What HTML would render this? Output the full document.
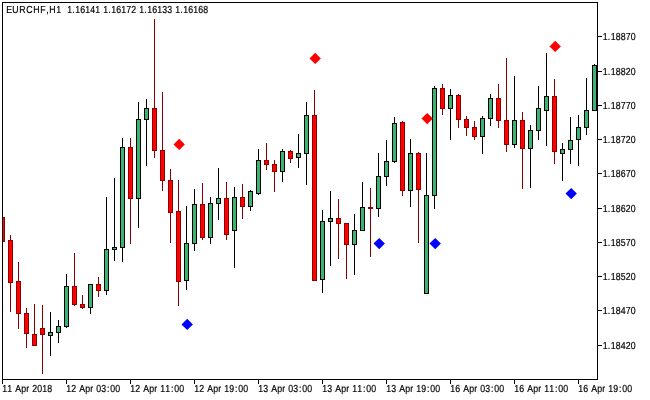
<!DOCTYPE html>
<html><head><meta charset="utf-8"><title>EURCHF,H1</title>
<style>html,body{margin:0;padding:0;background:#fff}body{width:650px;height:400px;overflow:hidden}svg{display:block}text{font-family:"Liberation Sans",Arial,sans-serif;font-size:10.2px;text-rendering:geometricPrecision;fill:#000;stroke:#000;stroke-width:0.2px}</style></head><body>
<svg width="650" height="400" viewBox="0 0 650 400">
<rect width="650" height="400" fill="#fff"/>
<g shape-rendering="crispEdges">
<rect x="2" y="217" width="1" height="25" fill="#8b0000"/>
<rect x="0" y="217" width="5" height="25" fill="#8b0000"/>
<rect x="1" y="218" width="3" height="23" fill="#ff0000"/>
<rect x="10" y="235" width="1" height="77" fill="#8b0000"/>
<rect x="8" y="240" width="5" height="43" fill="#8b0000"/>
<rect x="9" y="241" width="3" height="41" fill="#ff0000"/>
<rect x="18" y="262" width="1" height="67" fill="#8b0000"/>
<rect x="16" y="281" width="5" height="33" fill="#8b0000"/>
<rect x="17" y="282" width="3" height="31" fill="#ff0000"/>
<rect x="26" y="308" width="1" height="40" fill="#8b0000"/>
<rect x="24" y="313" width="5" height="21" fill="#8b0000"/>
<rect x="25" y="314" width="3" height="19" fill="#ff0000"/>
<rect x="34" y="304" width="1" height="42" fill="#8b0000"/>
<rect x="32" y="334" width="5" height="12" fill="#8b0000"/>
<rect x="33" y="335" width="3" height="10" fill="#ff0000"/>
<rect x="42" y="305" width="1" height="69" fill="#8b0000"/>
<rect x="40" y="328" width="5" height="7" fill="#8b0000"/>
<rect x="41" y="329" width="3" height="5" fill="#ff0000"/>
<rect x="50" y="312" width="1" height="44" fill="#000"/>
<rect x="48" y="332" width="5" height="4" fill="#000"/>
<rect x="49" y="333" width="3" height="2" fill="#3cb371"/>
<rect x="58" y="320" width="1" height="23" fill="#000"/>
<rect x="56" y="326" width="5" height="7" fill="#000"/>
<rect x="57" y="327" width="3" height="5" fill="#3cb371"/>
<rect x="66" y="274" width="1" height="54" fill="#000"/>
<rect x="64" y="286" width="5" height="41" fill="#000"/>
<rect x="65" y="287" width="3" height="39" fill="#3cb371"/>
<rect x="74" y="253" width="1" height="53" fill="#8b0000"/>
<rect x="72" y="286" width="5" height="19" fill="#8b0000"/>
<rect x="73" y="287" width="3" height="17" fill="#ff0000"/>
<rect x="82" y="295" width="1" height="14" fill="#8b0000"/>
<rect x="80" y="304" width="5" height="4" fill="#8b0000"/>
<rect x="81" y="305" width="3" height="2" fill="#ff0000"/>
<rect x="90" y="284" width="1" height="30" fill="#000"/>
<rect x="88" y="284" width="5" height="24" fill="#000"/>
<rect x="89" y="285" width="3" height="22" fill="#3cb371"/>
<rect x="98" y="277" width="1" height="20" fill="#8b0000"/>
<rect x="96" y="284" width="5" height="7" fill="#8b0000"/>
<rect x="97" y="285" width="3" height="5" fill="#ff0000"/>
<rect x="106" y="197" width="1" height="98" fill="#000"/>
<rect x="104" y="249" width="5" height="42" fill="#000"/>
<rect x="105" y="250" width="3" height="40" fill="#3cb371"/>
<rect x="114" y="178" width="1" height="83" fill="#000"/>
<rect x="112" y="247" width="5" height="3" fill="#000"/>
<rect x="113" y="248" width="3" height="1" fill="#3cb371"/>
<rect x="122" y="138" width="1" height="124" fill="#000"/>
<rect x="120" y="147" width="5" height="101" fill="#000"/>
<rect x="121" y="148" width="3" height="99" fill="#3cb371"/>
<rect x="130" y="138" width="1" height="106" fill="#8b0000"/>
<rect x="128" y="147" width="5" height="52" fill="#8b0000"/>
<rect x="129" y="148" width="3" height="50" fill="#ff0000"/>
<rect x="138" y="102" width="1" height="126" fill="#000"/>
<rect x="136" y="119" width="5" height="80" fill="#000"/>
<rect x="137" y="120" width="3" height="78" fill="#3cb371"/>
<rect x="146" y="99" width="1" height="67" fill="#000"/>
<rect x="144" y="108" width="5" height="12" fill="#000"/>
<rect x="145" y="109" width="3" height="10" fill="#3cb371"/>
<rect x="154" y="19" width="1" height="139" fill="#8b0000"/>
<rect x="152" y="108" width="5" height="43" fill="#8b0000"/>
<rect x="153" y="109" width="3" height="41" fill="#ff0000"/>
<rect x="162" y="92" width="1" height="99" fill="#8b0000"/>
<rect x="160" y="150" width="5" height="31" fill="#8b0000"/>
<rect x="161" y="151" width="3" height="29" fill="#ff0000"/>
<rect x="170" y="169" width="1" height="74" fill="#8b0000"/>
<rect x="168" y="180" width="5" height="33" fill="#8b0000"/>
<rect x="169" y="181" width="3" height="31" fill="#ff0000"/>
<rect x="178" y="180" width="1" height="126" fill="#8b0000"/>
<rect x="176" y="211" width="5" height="71" fill="#8b0000"/>
<rect x="177" y="212" width="3" height="69" fill="#ff0000"/>
<rect x="186" y="206" width="1" height="84" fill="#000"/>
<rect x="184" y="243" width="5" height="38" fill="#000"/>
<rect x="185" y="244" width="3" height="36" fill="#3cb371"/>
<rect x="194" y="189" width="1" height="62" fill="#000"/>
<rect x="192" y="204" width="5" height="40" fill="#000"/>
<rect x="193" y="205" width="3" height="38" fill="#3cb371"/>
<rect x="202" y="183" width="1" height="57" fill="#8b0000"/>
<rect x="200" y="204" width="5" height="34" fill="#8b0000"/>
<rect x="201" y="205" width="3" height="32" fill="#ff0000"/>
<rect x="210" y="197" width="1" height="47" fill="#000"/>
<rect x="208" y="203" width="5" height="35" fill="#000"/>
<rect x="209" y="204" width="3" height="33" fill="#3cb371"/>
<rect x="218" y="168" width="1" height="52" fill="#000"/>
<rect x="216" y="198" width="5" height="6" fill="#000"/>
<rect x="217" y="199" width="3" height="4" fill="#3cb371"/>
<rect x="226" y="182" width="1" height="58" fill="#8b0000"/>
<rect x="224" y="198" width="5" height="37" fill="#8b0000"/>
<rect x="225" y="199" width="3" height="35" fill="#ff0000"/>
<rect x="234" y="187" width="1" height="81" fill="#000"/>
<rect x="232" y="197" width="5" height="34" fill="#000"/>
<rect x="233" y="198" width="3" height="32" fill="#3cb371"/>
<rect x="242" y="184" width="1" height="35" fill="#8b0000"/>
<rect x="240" y="197" width="5" height="10" fill="#8b0000"/>
<rect x="241" y="198" width="3" height="8" fill="#ff0000"/>
<rect x="250" y="190" width="1" height="21" fill="#000"/>
<rect x="248" y="191" width="5" height="16" fill="#000"/>
<rect x="249" y="192" width="3" height="14" fill="#3cb371"/>
<rect x="258" y="149" width="1" height="46" fill="#000"/>
<rect x="256" y="160" width="5" height="34" fill="#000"/>
<rect x="257" y="161" width="3" height="32" fill="#3cb371"/>
<rect x="266" y="143" width="1" height="27" fill="#8b0000"/>
<rect x="264" y="160" width="5" height="5" fill="#8b0000"/>
<rect x="265" y="161" width="3" height="3" fill="#ff0000"/>
<rect x="274" y="160" width="1" height="32" fill="#8b0000"/>
<rect x="272" y="164" width="5" height="8" fill="#8b0000"/>
<rect x="273" y="165" width="3" height="6" fill="#ff0000"/>
<rect x="282" y="149" width="1" height="33" fill="#000"/>
<rect x="280" y="151" width="5" height="21" fill="#000"/>
<rect x="281" y="152" width="3" height="19" fill="#3cb371"/>
<rect x="290" y="150" width="1" height="13" fill="#8b0000"/>
<rect x="288" y="151" width="5" height="8" fill="#8b0000"/>
<rect x="289" y="152" width="3" height="6" fill="#ff0000"/>
<rect x="298" y="134" width="1" height="34" fill="#000"/>
<rect x="296" y="153" width="5" height="5" fill="#000"/>
<rect x="297" y="154" width="3" height="3" fill="#3cb371"/>
<rect x="306" y="102" width="1" height="83" fill="#000"/>
<rect x="304" y="115" width="5" height="39" fill="#000"/>
<rect x="305" y="116" width="3" height="37" fill="#3cb371"/>
<rect x="314" y="90" width="1" height="191" fill="#8b0000"/>
<rect x="312" y="115" width="5" height="166" fill="#8b0000"/>
<rect x="313" y="116" width="3" height="164" fill="#ff0000"/>
<rect x="322" y="210" width="1" height="83" fill="#000"/>
<rect x="320" y="221" width="5" height="59" fill="#000"/>
<rect x="321" y="222" width="3" height="57" fill="#3cb371"/>
<rect x="330" y="191" width="1" height="75" fill="#000"/>
<rect x="328" y="218" width="5" height="4" fill="#000"/>
<rect x="329" y="219" width="3" height="2" fill="#3cb371"/>
<rect x="338" y="199" width="1" height="60" fill="#8b0000"/>
<rect x="336" y="218" width="5" height="6" fill="#8b0000"/>
<rect x="337" y="219" width="3" height="4" fill="#ff0000"/>
<rect x="346" y="223" width="1" height="56" fill="#8b0000"/>
<rect x="344" y="223" width="5" height="22" fill="#8b0000"/>
<rect x="345" y="224" width="3" height="20" fill="#ff0000"/>
<rect x="354" y="214" width="1" height="61" fill="#000"/>
<rect x="352" y="230" width="5" height="15" fill="#000"/>
<rect x="353" y="231" width="3" height="13" fill="#3cb371"/>
<rect x="362" y="182" width="1" height="49" fill="#000"/>
<rect x="360" y="207" width="5" height="24" fill="#000"/>
<rect x="361" y="208" width="3" height="22" fill="#3cb371"/>
<rect x="370" y="188" width="1" height="69" fill="#8b0000"/>
<rect x="368" y="207" width="5" height="2" fill="#8b0000"/>
<rect x="378" y="153" width="1" height="64" fill="#000"/>
<rect x="376" y="176" width="5" height="33" fill="#000"/>
<rect x="377" y="177" width="3" height="31" fill="#3cb371"/>
<rect x="386" y="140" width="1" height="46" fill="#000"/>
<rect x="384" y="161" width="5" height="16" fill="#000"/>
<rect x="385" y="162" width="3" height="14" fill="#3cb371"/>
<rect x="394" y="117" width="1" height="46" fill="#000"/>
<rect x="392" y="123" width="5" height="39" fill="#000"/>
<rect x="393" y="124" width="3" height="37" fill="#3cb371"/>
<rect x="402" y="121" width="1" height="75" fill="#8b0000"/>
<rect x="400" y="122" width="5" height="69" fill="#8b0000"/>
<rect x="401" y="123" width="3" height="67" fill="#ff0000"/>
<rect x="410" y="139" width="1" height="68" fill="#000"/>
<rect x="408" y="153" width="5" height="38" fill="#000"/>
<rect x="409" y="154" width="3" height="36" fill="#3cb371"/>
<rect x="418" y="152" width="1" height="91" fill="#8b0000"/>
<rect x="416" y="153" width="5" height="37" fill="#8b0000"/>
<rect x="417" y="154" width="3" height="35" fill="#ff0000"/>
<rect x="426" y="153" width="1" height="141" fill="#000"/>
<rect x="424" y="195" width="5" height="99" fill="#000"/>
<rect x="425" y="196" width="3" height="97" fill="#3cb371"/>
<rect x="434" y="86" width="1" height="123" fill="#000"/>
<rect x="432" y="88" width="5" height="108" fill="#000"/>
<rect x="433" y="89" width="3" height="106" fill="#3cb371"/>
<rect x="442" y="84" width="1" height="31" fill="#8b0000"/>
<rect x="440" y="88" width="5" height="21" fill="#8b0000"/>
<rect x="441" y="89" width="3" height="19" fill="#ff0000"/>
<rect x="450" y="89" width="1" height="51" fill="#000"/>
<rect x="448" y="95" width="5" height="14" fill="#000"/>
<rect x="449" y="96" width="3" height="12" fill="#3cb371"/>
<rect x="458" y="94" width="1" height="34" fill="#8b0000"/>
<rect x="456" y="95" width="5" height="25" fill="#8b0000"/>
<rect x="457" y="96" width="3" height="23" fill="#ff0000"/>
<rect x="466" y="116" width="1" height="20" fill="#8b0000"/>
<rect x="464" y="119" width="5" height="9" fill="#8b0000"/>
<rect x="465" y="120" width="3" height="7" fill="#ff0000"/>
<rect x="474" y="121" width="1" height="19" fill="#8b0000"/>
<rect x="472" y="127" width="5" height="10" fill="#8b0000"/>
<rect x="473" y="128" width="3" height="8" fill="#ff0000"/>
<rect x="482" y="116" width="1" height="38" fill="#000"/>
<rect x="480" y="118" width="5" height="19" fill="#000"/>
<rect x="481" y="119" width="3" height="17" fill="#3cb371"/>
<rect x="490" y="94" width="1" height="32" fill="#000"/>
<rect x="488" y="98" width="5" height="21" fill="#000"/>
<rect x="489" y="99" width="3" height="19" fill="#3cb371"/>
<rect x="498" y="84" width="1" height="44" fill="#8b0000"/>
<rect x="496" y="98" width="5" height="23" fill="#8b0000"/>
<rect x="497" y="99" width="3" height="21" fill="#ff0000"/>
<rect x="506" y="58" width="1" height="94" fill="#8b0000"/>
<rect x="504" y="120" width="5" height="25" fill="#8b0000"/>
<rect x="505" y="121" width="3" height="23" fill="#ff0000"/>
<rect x="514" y="76" width="1" height="72" fill="#000"/>
<rect x="512" y="120" width="5" height="25" fill="#000"/>
<rect x="513" y="121" width="3" height="23" fill="#3cb371"/>
<rect x="522" y="112" width="1" height="77" fill="#8b0000"/>
<rect x="520" y="120" width="5" height="29" fill="#8b0000"/>
<rect x="521" y="121" width="3" height="27" fill="#ff0000"/>
<rect x="530" y="125" width="1" height="63" fill="#000"/>
<rect x="528" y="130" width="5" height="19" fill="#000"/>
<rect x="529" y="131" width="3" height="17" fill="#3cb371"/>
<rect x="538" y="86" width="1" height="54" fill="#000"/>
<rect x="536" y="108" width="5" height="23" fill="#000"/>
<rect x="537" y="109" width="3" height="21" fill="#3cb371"/>
<rect x="546" y="53" width="1" height="93" fill="#000"/>
<rect x="544" y="96" width="5" height="15" fill="#000"/>
<rect x="545" y="97" width="3" height="13" fill="#3cb371"/>
<rect x="554" y="79" width="1" height="85" fill="#8b0000"/>
<rect x="552" y="96" width="5" height="56" fill="#8b0000"/>
<rect x="553" y="97" width="3" height="54" fill="#ff0000"/>
<rect x="562" y="143" width="1" height="38" fill="#000"/>
<rect x="560" y="149" width="5" height="5" fill="#000"/>
<rect x="561" y="150" width="3" height="3" fill="#3cb371"/>
<rect x="570" y="117" width="1" height="47" fill="#000"/>
<rect x="568" y="140" width="5" height="10" fill="#000"/>
<rect x="569" y="141" width="3" height="8" fill="#3cb371"/>
<rect x="578" y="115" width="1" height="51" fill="#000"/>
<rect x="576" y="127" width="5" height="13" fill="#000"/>
<rect x="577" y="128" width="3" height="11" fill="#3cb371"/>
<rect x="586" y="78" width="1" height="57" fill="#000"/>
<rect x="584" y="110" width="5" height="18" fill="#000"/>
<rect x="585" y="111" width="3" height="16" fill="#3cb371"/>
<rect x="594" y="64" width="1" height="47" fill="#000"/>
<rect x="592" y="65" width="5" height="46" fill="#000"/>
<rect x="593" y="66" width="3" height="44" fill="#3cb371"/>
<rect x="0" y="0" width="2" height="400" fill="#fff"/>
<rect x="2" y="2" width="596" height="1" fill="#000"/>
<rect x="2" y="379" width="596" height="1" fill="#000"/>
<rect x="2" y="2" width="1" height="382" fill="#000"/>
<rect x="597" y="2" width="1" height="378" fill="#000"/>
<rect x="598" y="36" width="4" height="1" fill="#000"/>
<rect x="598" y="71" width="4" height="1" fill="#000"/>
<rect x="598" y="105" width="4" height="1" fill="#000"/>
<rect x="598" y="139" width="4" height="1" fill="#000"/>
<rect x="598" y="173" width="4" height="1" fill="#000"/>
<rect x="598" y="208" width="4" height="1" fill="#000"/>
<rect x="598" y="242" width="4" height="1" fill="#000"/>
<rect x="598" y="276" width="4" height="1" fill="#000"/>
<rect x="598" y="310" width="4" height="1" fill="#000"/>
<rect x="598" y="345" width="4" height="1" fill="#000"/>
<rect x="66" y="380" width="1" height="4" fill="#000"/>
<rect x="130" y="380" width="1" height="4" fill="#000"/>
<rect x="194" y="380" width="1" height="4" fill="#000"/>
<rect x="258" y="380" width="1" height="4" fill="#000"/>
<rect x="322" y="380" width="1" height="4" fill="#000"/>
<rect x="386" y="380" width="1" height="4" fill="#000"/>
<rect x="450" y="380" width="1" height="4" fill="#000"/>
<rect x="514" y="380" width="1" height="4" fill="#000"/>
<rect x="578" y="380" width="1" height="4" fill="#000"/>
</g>
<polygon points="173.5,144.4 179.2,138.70000000000002 184.89999999999998,144.4 179.2,150.1" fill="#ff0000"/>
<polygon points="181.5,324.4 187.2,318.7 192.89999999999998,324.4 187.2,330.09999999999997" fill="#0000ff"/>
<polygon points="309.5,58.4 315.2,52.699999999999996 320.9,58.4 315.2,64.1" fill="#ff0000"/>
<polygon points="373.5,243.6 379.2,237.9 384.9,243.6 379.2,249.29999999999998" fill="#0000ff"/>
<polygon points="421.5,118.6 427.2,112.89999999999999 432.9,118.6 427.2,124.3" fill="#ff0000"/>
<polygon points="429.5,243.6 435.2,237.9 440.9,243.6 435.2,249.29999999999998" fill="#0000ff"/>
<polygon points="549.5,46.4 555.2,40.699999999999996 560.9000000000001,46.4 555.2,52.1" fill="#ff0000"/>
<polygon points="565.5,193.6 571.2,187.9 576.9000000000001,193.6 571.2,199.29999999999998" fill="#0000ff"/>
<text transform="translate(0 40) scale(0.86 1)" x="700.81 706.63 710.12 715.93 721.74 727.56 733.37" y="0" xml:space="preserve">1.18870</text>
<text transform="translate(0 75) scale(0.86 1)" x="700.81 706.63 710.12 715.93 721.74 727.56 733.37" y="0" xml:space="preserve">1.18820</text>
<text transform="translate(0 109) scale(0.86 1)" x="700.81 706.63 710.12 715.93 721.74 727.56 733.37" y="0" xml:space="preserve">1.18770</text>
<text transform="translate(0 143) scale(0.86 1)" x="700.81 706.63 710.12 715.93 721.74 727.56 733.37" y="0" xml:space="preserve">1.18720</text>
<text transform="translate(0 177) scale(0.86 1)" x="700.81 706.63 710.12 715.93 721.74 727.56 733.37" y="0" xml:space="preserve">1.18670</text>
<text transform="translate(0 212) scale(0.86 1)" x="700.81 706.63 710.12 715.93 721.74 727.56 733.37" y="0" xml:space="preserve">1.18620</text>
<text transform="translate(0 246) scale(0.86 1)" x="700.81 706.63 710.12 715.93 721.74 727.56 733.37" y="0" xml:space="preserve">1.18570</text>
<text transform="translate(0 280) scale(0.86 1)" x="700.81 706.63 710.12 715.93 721.74 727.56 733.37" y="0" xml:space="preserve">1.18520</text>
<text transform="translate(0 314) scale(0.86 1)" x="700.81 706.63 710.12 715.93 721.74 727.56 733.37" y="0" xml:space="preserve">1.18470</text>
<text transform="translate(0 349) scale(0.86 1)" x="700.81 706.63 710.12 715.93 721.74 727.56 733.37" y="0" xml:space="preserve">1.18420</text>
<text transform="translate(0 392) scale(0.86 1)" x="2.67 8.49 14.30 17.79 24.77 30.58 34.07 37.56 43.37 49.19 55.00" y="0" xml:space="preserve">11 Apr 2018</text>
<text transform="translate(0 392) scale(0.86 1)" x="77.09 82.91 88.72 92.21 99.19 105.00 108.49 111.98 117.79 124.53 128.26 134.07" y="0" xml:space="preserve">12 Apr 03:00</text>
<text transform="translate(0 392) scale(0.86 1)" x="151.51 157.33 163.14 166.63 173.60 179.42 182.91 186.40 192.21 198.95 202.67 208.49" y="0" xml:space="preserve">12 Apr 11:00</text>
<text transform="translate(0 392) scale(0.86 1)" x="225.93 231.74 237.56 241.05 248.02 253.84 257.33 260.81 266.63 273.37 277.09 282.91" y="0" xml:space="preserve">12 Apr 19:00</text>
<text transform="translate(0 392) scale(0.86 1)" x="300.35 306.16 311.98 315.47 322.44 328.26 331.74 335.23 341.05 347.79 351.51 357.33" y="0" xml:space="preserve">13 Apr 03:00</text>
<text transform="translate(0 392) scale(0.86 1)" x="374.77 380.58 386.40 389.88 396.86 402.67 406.16 409.65 415.47 422.21 425.93 431.74" y="0" xml:space="preserve">13 Apr 11:00</text>
<text transform="translate(0 392) scale(0.86 1)" x="449.19 455.00 460.81 464.30 471.28 477.09 480.58 484.07 489.88 496.63 500.35 506.16" y="0" xml:space="preserve">13 Apr 19:00</text>
<text transform="translate(0 392) scale(0.86 1)" x="523.60 529.42 535.23 538.72 545.70 551.51 555.00 558.49 564.30 571.05 574.77 580.58" y="0" xml:space="preserve">16 Apr 03:00</text>
<text transform="translate(0 392) scale(0.86 1)" x="598.02 603.84 609.65 613.14 620.12 625.93 629.42 632.91 638.72 645.47 649.19 655.00" y="0" xml:space="preserve">16 Apr 11:00</text>
<text transform="translate(0 392) scale(0.86 1)" x="672.44 678.26 684.07 687.56 694.53 700.35 703.84 707.33 713.14 719.88 723.60 729.42" y="0" xml:space="preserve">16 Apr 19:00</text>
<text transform="translate(0 13) scale(0.86 1)" x="7.21 14.19 22.33 30.47 38.60 46.74 53.72 57.21 65.35 71.16 74.65 78.14 83.95 87.44 93.26 99.07 104.88 110.70 116.51 120.00 125.81 129.30 135.12 140.93 146.74 152.56 158.37 161.86 167.67 171.16 176.98 182.79 188.60 194.42 200.23 203.72 209.53 213.02 218.84 224.65 230.47 236.28" y="0" xml:space="preserve">EURCHF,H1  1.16141 1.16172 1.16133 1.16168</text>
</svg></body></html>
